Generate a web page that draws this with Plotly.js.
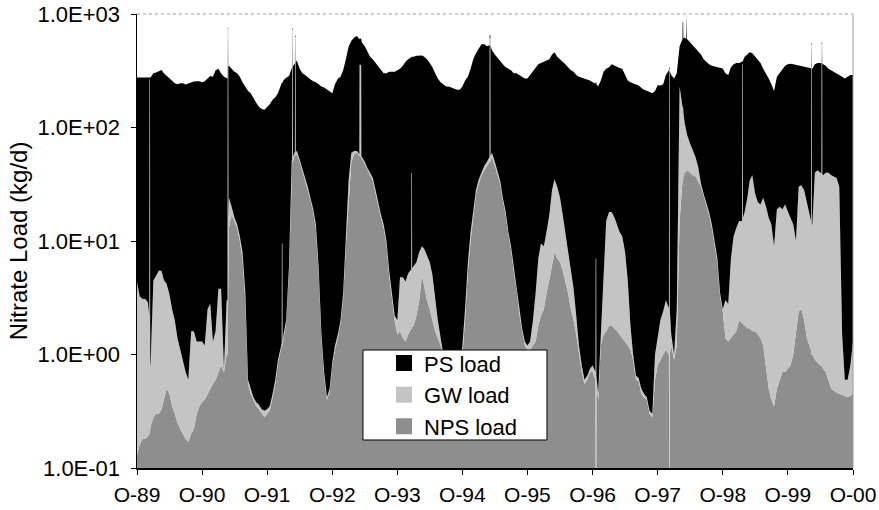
<!DOCTYPE html>
<html>
<head>
<meta charset="utf-8">
<script src="https://cdn.plot.ly/plotly-3.0.1.min.js"></script>
<style>
  html, body { margin: 0; padding: 0; background: #fff; }
  #chart { width: 879px; height: 510px; }
</style>
</head>
<body>
<div id="chart"></div>
<script>
// Daily nitrate load, sampled on the 1st and 16th of each month, Oct 1989 - Oct 2000 (kg/d)
const psLoad = [
  272, 273, 273, 277, 273, 275, 296, 300, 310, 315,
  296, 281, 267, 253, 243, 239, 244, 244, 239, 244,
  248, 253, 254, 254, 249, 254, 268, 282, 279, 318,
  326, 296, 279, 267, 326, 310, 294, 286, 269, 242,
  222, 209, 200, 180, 165, 152, 145, 143, 150, 160,
  175, 184, 199, 234, 259, 273, 279, 280, 300, 328,
  278, 258, 254, 245, 241, 236, 236, 234, 228, 224,
  215, 205, 199, 239, 268, 278, 316, 388, 485, 520,
  558, 578, 542, 505, 470, 426, 380, 364, 342, 319,
  303, 286, 290, 304, 307, 308, 318, 325, 345, 376,
  395, 414, 414, 423, 422, 421, 411, 392, 363, 335,
  297, 268, 249, 239, 229, 229, 224, 219, 214, 214,
  229, 257, 273, 318, 381, 422, 465, 500, 494, 470,
  475, 420, 390, 368, 346, 336, 322, 318, 311, 294,
  296, 287, 278, 269, 269, 289, 318, 336, 353, 360,
  371, 378, 383, 412, 425, 390, 376, 363, 348, 332,
  314, 306, 288, 279, 274, 269, 264, 259, 249, 244,
  230, 258, 304, 315, 322, 342, 334, 326, 323, 319,
  282, 255, 248, 244, 239, 234, 224, 215, 210, 205,
  200, 209, 234, 233, 238, 287, 317, 288, 269, 298,
  290, 450, 510, 515, 488, 468, 445, 425, 408, 374,
  358, 342, 336, 335, 333, 331, 328, 297, 287, 333,
  349, 357, 355, 365, 402, 416, 426, 412, 394, 378,
  349, 306, 280, 254, 226, 201, 261, 280, 311, 329,
  342, 349, 346, 345, 320, 319, 317, 318, 318, 316,
  320, 328, 330, 322, 310, 290, 282, 273, 264, 260,
  278, 269, 279, 289, 289
];
const gwLoad = [
  4.2, 3.1, 2.9, 2.9, 2.7, 0.57, 4.2, 4.7, 5.2, 5.1,
  4.1, 3.7, 2.95, 2.15, 1.7, 1.15, 0.88, 0.7, 0.52, 0.43,
  1.4, 1.38, 1.0, 0.95, 0.92, 0.8, 2.05, 2.3, 0.75, 1.0,
  3.1, 3.0, 0.05, 2.0, 11, 3, 1, 1, 1, 1,
  0.5, 0.05, 0.05, 0.02, 0.03, 0.03, 0.03, 0.04, 0.03, 0.03,
  0.03, 0.05, 0.05, 0.1, 0.1, 0.1, 0.5, 5, 5, 4,
  2, 2, 2, 2, 1, 1, 1, 0.5, 0.1, 0.05,
  0.02, 0.03, 0.05, 0.1, 0.1, 0.1, 0.3, 3, 10, 10,
  4, 2, 2, 2, 2, 2, 2, 2, 2, 1,
  1, 1, 0.5, 0.5, 0.2, 0.2, 0.5, 3.2, 3.4, 3.1,
  3.7, 3.9, 4.2, 4.3, 5.0, 4.0, 4.5, 4.5, 4.0, 3.0,
  1.4, 0.6, 0.2, 0.1, 0.1, 0.05, 0.05, 0.05, 0.05, 0.1,
  0.2, 0.5, 1.0, 2, 2, 2, 3, 2, 4, 4,
  5, 5, 4, 3, 2, 1, 1, 0.5, 0.5, 0.5,
  0.2, 0.2, 0.1, 0.1, 0.1, 0.2, 0.8, 2.2, 5.2, 7.3,
  6.5, 8.5, 12.5, 22, 27, 23, 17.5, 11.5, 7.5, 4.5,
  3.0, 1.8, 0.7, 0.2, 0.1, 0.05, 0.05, 0.05, 0.1, 0.1,
  0.05, 0.3, 4.0, 13.4, 16.2, 16.2, 14.3, 12.4, 10.5, 9.6,
  6.7, 3.3, 0.7, 0.1, 0.05, 0.04, 0.05, 0.03, 0.02, 0.02,
  0.02, 0.4, 0.6, 1.1, 1.4, 1.9, 1.6, 0.3, 0.1, 1.3,
  215, 115, 70, 43, 32, 24, 18, 12, 2, 1,
  1, 1, 1, 0.5, 0.5, 0.2, 0.1, 1.6, 1.5, 5.6,
  9.5, 11.4, 13, 13.1, 16.2, 22.3, 32.3, 36.4, 24.4, 20.5,
  19.6, 22.8, 19.2, 15.5, 13.6, 8.65, 18.5, 19.4, 18.3, 20.3,
  17.2, 15.2, 13, 8.5, 27.6, 28.5, 26, 20.6, 15.8, 13,
  39.1, 41.2, 39.2, 37.3, 39.3, 39.4, 37.5, 36.5, 35.5, 29.6,
  1.06, 0.17, 0.18, 0.37, 0.85
];
const npsLoad = [
  0.13, 0.16, 0.18, 0.18, 0.19, 0.23, 0.28, 0.3, 0.3, 0.33,
  0.4, 0.5, 0.45, 0.35, 0.3, 0.25, 0.22, 0.2, 0.18, 0.17,
  0.2, 0.22, 0.3, 0.35, 0.38, 0.4, 0.45, 0.5, 0.55, 0.6,
  0.7, 0.8, 0.7, 1.0, 13, 17, 15, 13, 10, 7,
  3, 0.55, 0.45, 0.4, 0.35, 0.33, 0.3, 0.28, 0.3, 0.32,
  0.42, 0.55, 0.85, 1.1, 1.4, 1.9, 5.5, 45, 55, 58,
  50, 40, 34, 28, 23, 18, 13, 5.5, 1.4, 0.65,
  0.4, 0.47, 0.8, 1.1, 1.4, 1.9, 3.2, 9, 25, 50,
  58, 60, 56, 53, 48, 42, 38, 34, 26, 20,
  16, 13, 9.5, 5, 3.1, 2.0, 1.5, 1.6, 1.4, 1.3,
  1.5, 1.7, 1.8, 2.2, 3.0, 5, 4, 3, 2.5, 2.0,
  1.6, 1.4, 1.2, 0.9, 0.7, 0.55, 0.45, 0.45, 0.5, 0.7,
  1.0, 2.0, 5.5, 10, 17, 26, 32, 38, 42, 46,
  50, 55, 46, 39, 32, 23, 17, 11.5, 8.5, 5.5,
  3.8, 2.3, 1.6, 1.2, 1.1, 1.1, 1.2, 1.3, 1.8, 2.2,
  2.5, 3.5, 4.5, 6, 8, 7, 6.5, 5.5, 4.5, 3.5,
  2.5, 2.0, 1.5, 1.0, 0.7, 0.55, 0.6, 0.7, 0.7, 0.6,
  0.4, 1.2, 1.5, 1.6, 1.8, 1.8, 1.7, 1.6, 1.5, 1.4,
  1.3, 1.2, 1.1, 0.9, 0.6, 0.58, 0.45, 0.42, 0.4, 0.3,
  0.28, 0.6, 0.8, 0.9, 1.0, 1.1, 1.0, 1.2, 0.9, 1.2,
  15, 35, 40, 42, 40, 38, 37, 33, 30, 25,
  21, 17, 13, 9.5, 6.5, 3.3, 2.4, 1.4, 1.3, 1.4,
  1.5, 1.6, 2.0, 1.9, 1.8, 1.7, 1.7, 1.6, 1.6, 1.5,
  1.4, 1.2, 0.8, 0.5, 0.4, 0.35, 0.5, 0.6, 0.7, 0.7,
  0.75, 0.8, 1.0, 1.5, 2.4, 2.5, 2.0, 1.4, 1.2, 1.0,
  0.9, 0.85, 0.8, 0.75, 0.7, 0.6, 0.5, 0.48, 0.46, 0.45,
  0.44, 0.43, 0.42, 0.43, 0.45
];

// Short storm events between the half-month samples (kg/d)
const spikeDates = [
  '1989-12-09', '1989-12-10', '1989-12-13', '1989-12-14',
  '1991-02-21', '1991-02-22', '1991-02-25', '1991-02-26',
  '1991-12-22', '1991-12-23', '1991-12-26', '1991-12-27',
  '1992-02-18', '1992-02-19', '1992-02-22', '1992-02-23',
  '1992-03-05', '1992-03-06', '1992-03-09', '1992-03-10',
  '1993-03-02', '1993-03-03', '1993-03-12', '1993-03-13',
  '1993-12-18', '1993-12-19', '1993-12-22', '1993-12-23',
  '1995-03-02', '1995-03-03', '1995-03-07', '1995-03-08',
  '1996-10-17', '1996-10-18', '1996-10-21', '1996-10-22',
  '1997-12-03', '1997-12-04', '1997-12-07', '1997-12-08',
  '1998-02-17', '1998-02-18', '1998-02-21', '1998-02-22',
  '1998-03-10', '1998-03-11', '1998-03-13', '1998-03-14',
  '1999-01-17', '1999-01-18', '1999-01-21', '1999-01-22',
  '2000-02-08', '2000-02-09', '2000-02-12', '2000-02-13',
  '2000-04-07', '2000-04-08', '2000-04-11', '2000-04-12'
];
const spikePS = [
  273, 12, 12, 275,
  267, 15, 15, 330,
  240, 240, 240, 245,
  285, 20, 20, 290,
  305, 15, 15, 315,
  540, 250, 250, 520,
  414, 380, 380, 414,
  475, 40, 40, 470,
  244, 243, 243, 240,
  317, 10, 10, 310,
  450, 700, 700, 470,
  512, 920, 920, 515,
  365, 20, 20, 370,
  317, 15, 15, 316,
  328, 20, 20, 325
];
const spikeGW = [
  2.0, 264, 264, 0.6,
  2, 740, 740, 8,
  0.1, 8.3, 8.3, 0.1,
  5, 680, 680, 5,
  5, 570, 570, 4,
  2, 300, 300, 2,
  3.9, 38, 38, 4.0,
  5, 560, 560, 5,
  0.1, 7, 7, 0.1,
  1.6, 330, 330, 1.5,
  115, 115, 115, 100,
  50, 45, 45, 44,
  13, 360, 360, 14,
  14, 535, 535, 13,
  39, 540, 540, 38
];
const spikeNPS = [
  0.2, 0.2, 0.2, 0.22,
  1.0, 1.5, 1.5, 8,
  1.15, 1.2, 1.2, 1.2,
  47, 50, 50, 50,
  56, 58, 58, 57,
  56, 57, 55, 54,
  1.7, 1.7, 1.7, 1.75,
  50, 50, 50, 51,
  0.6, 0.02, 0.02, 0.55,
  1.0, 0.1, 0.1, 1.0,
  35, 35, 35, 37,
  41, 42, 42, 42,
  1.9, 1.9, 1.9, 1.9,
  1.1, 1.0, 1.0, 1.0,
  0.8, 0.8, 0.8, 0.78
];

// Axis labels
const yTickValues = [0.1, 1, 10, 100, 1000];
const yTickLabels = ['1.0E-01', '1.0E+00', '1.0E+01', '1.0E+02', '1.0E+03'];
const xTickValues = ['1989-10-01', '1990-10-01', '1991-10-01', '1992-10-01', '1993-10-01', '1994-10-01',
                     '1995-10-01', '1996-10-01', '1997-10-01', '1998-10-01', '1999-10-01', '2000-10-01'];
const xTickLabels = ['O-89', 'O-90', 'O-91', 'O-92', 'O-93', 'O-94', 'O-95', 'O-96', 'O-97', 'O-98', 'O-99', 'O-00'];

const seriesNames = ['PS load', 'GW load', 'NPS load'];
const seriesColors = ['#000000', '#c4c4c4', '#8e8e8e'];

// Half-month sample dates: the 1st and 16th of every month, plus the closing date
function halfMonthDates(year, month, count) {
  const out = [];
  for (let k = 0; k < count; k++) {
    const m = (month - 1 + k) % 12 + 1;
    const y = year + Math.floor((month - 1 + k) / 12);
    const mm = String(m).padStart(2, '0');
    out.push(y + '-' + mm + '-01', y + '-' + mm + '-16');
  }
  const m = (month - 1 + count) % 12 + 1;
  const y = year + Math.floor((month - 1 + count) / 12);
  out.push(y + '-' + String(m).padStart(2, '0') + '-01');
  return out;
}
const sampleDates = halfMonthDates(1989, 10, 132);

// Merge the regular samples with the storm events in date order
const rows = sampleDates.map((d, i) => ({ d, ps: psLoad[i], gw: gwLoad[i], nps: npsLoad[i] }));
spikeDates.forEach((d, i) => rows.push({ d, ps: spikePS[i], gw: spikeGW[i], nps: spikeNPS[i] }));
rows.sort((a, b) => (a.d < b.d ? -1 : a.d > b.d ? 1 : 0));
const dates = rows.map(r => r.d);

function area(key, color) {
  return {
    type: 'scatter', mode: 'lines', x: dates, y: rows.map(r => r[key]),
    stackgroup: 'loads', line: { width: 0, color: color }, fillcolor: color,
    showlegend: false, hoverinfo: 'skip'
  };
}
function legendEntry(name, color) {
  return {
    type: 'scatter', mode: 'markers', x: [null], y: [null], name: name,
    marker: { symbol: 'square', size: 16, color: color, line: { width: 0 } },
    hoverinfo: 'skip'
  };
}

const font = 'Liberation Sans, Arial, sans-serif';
const data = [
  area('nps', seriesColors[2]),
  area('gw', seriesColors[1]),
  area('ps', seriesColors[0]),
  legendEntry(seriesNames[0], seriesColors[0]),
  legendEntry(seriesNames[1], seriesColors[1]),
  legendEntry(seriesNames[2], seriesColors[2])
];

const layout = {
  width: 879, height: 510,
  margin: { l: 137, r: 26, t: 14, b: 42 },
  paper_bgcolor: '#fff', plot_bgcolor: '#fff',
  font: { family: font, color: '#000', size: 22 },
  hovermode: false,
  xaxis: {
    type: 'date', range: ['1989-10-01', '2000-10-01'],
    tickmode: 'array', tickvals: xTickValues, ticktext: xTickLabels,
    ticks: 'outside', ticklen: 5, tickcolor: '#000', tickwidth: 1,
    showline: true, linecolor: '#000', linewidth: 1.5,
    showgrid: false, zeroline: false,
    tickfont: { family: font, size: 21, color: '#000' },
    ticklabelstandoff: 2
  },
  yaxis: {
    type: 'log', range: [-1, 3],
    tickmode: 'array', tickvals: yTickValues, ticktext: yTickLabels,
    ticks: 'outside', ticklen: 5, tickcolor: '#000', tickwidth: 1,
    showline: true, linecolor: '#000', linewidth: 1.5,
    showgrid: false, zeroline: false,
    tickfont: { family: font, size: 22, color: '#000' },
    ticklabelstandoff: 6,
    title: { text: 'Nitrate Load (kg/d)', font: { family: font, size: 24, color: '#000' }, standoff: 3 }
  },
  showlegend: true,
  legend: {
    x: 0.345, y: 0.277, xanchor: 'left', yanchor: 'top',
    bgcolor: 'rgba(0,0,0,0)', borderwidth: 0,
    font: { family: font, size: 22, color: '#000' },
    traceorder: 'normal'
  },
  shapes: [
    // faint frame on the top and right edges
    { type: 'line', xref: 'paper', yref: 'paper', x0: 0, x1: 1, y0: 1, y1: 1,
      line: { color: '#9a9a9a', width: 1, dash: 'dot' }, layer: 'above' },
    { type: 'line', xref: 'paper', yref: 'paper', x0: 1, x1: 1, y0: 0, y1: 1,
      line: { color: '#9a9a9a', width: 1 }, layer: 'above' },
    // legend box
    { type: 'rect', xref: 'paper', yref: 'paper', x0: 0.3156, x1: 0.5726, y0: 0.0617, y1: 0.2599,
      fillcolor: '#ffffff', line: { color: '#000', width: 1 }, layer: 'above' }
  ]
};

Plotly.newPlot('chart', data, layout, { staticPlot: true, displayModeBar: false });
</script>
</body>
</html>
